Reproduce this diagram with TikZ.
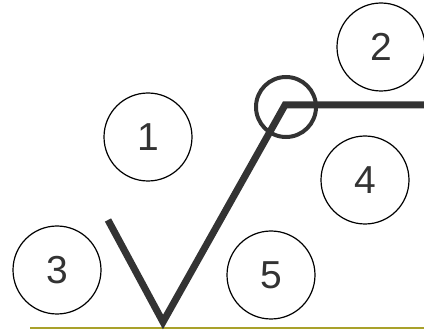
\documentclass[tikz,border=0pt]{standalone}
\usepackage{fontspec}
\setmainfont{Liberation Sans}
\usetikzlibrary{positioning}
\definecolor{ink}{HTML}{333333}
\definecolor{groundline}{HTML}{A9A12A}
\tikzset{
  num/.style={circle,draw=black,line width=1.2pt,minimum size=88pt,inner sep=0pt,
    text=ink,font=\fontsize{39}{40}\selectfont},
  ring/.style={circle,draw=ink,line width=4pt,minimum size=60pt,inner sep=0pt},
  arm/.style={draw=ink,line width=7pt,line join=miter},
}
\begin{document}
\begin{tikzpicture}[x=1pt,y=-1pt]
  \useasboundingbox (0,0) rectangle (424,334);
  % ground line
  \coordinate (gl) at (30,328);
  \coordinate (gr) at (424,328);
  \draw[groundline,line width=2pt] (gl) -- (gr);
  % the bent line
  \coordinate (tip) at (108,220);
  \coordinate (foot) at (163,322);
  \coordinate (knee) at (285,105);
  \coordinate (end) at (424,105);
  \draw[arm] (tip) -- (foot) -- (knee) -- (end);
  \node[ring] (joint) at (286,107) {};
  % numbered circles
  \node[num] (n1) at (148,137) {1};
  \node[num] (n2) at (381,47) {2};
  \node[num] (n3) at (57,270) {3};
  \node[num] (n4) at (365,180) {4};
  \node[num] (n5) at (271,275) {5};
\end{tikzpicture}
\end{document}
